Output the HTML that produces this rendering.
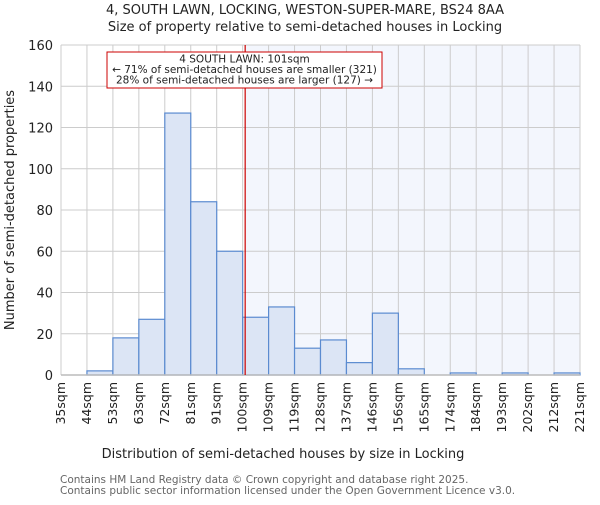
<!DOCTYPE html>
<html><head><meta charset="utf-8"><style>
body{margin:0;background:#fff}
svg{font-family:"DejaVu Sans","Liberation Sans",sans-serif}
</style></head><body>
<svg id="c" width="600" height="500" viewBox="0 0 600 500">
<text x="305" y="14" text-anchor="middle" font-size="13" fill="#222">4, SOUTH LAWN, LOCKING, WESTON-SUPER-MARE, BS24 8AA</text>
<text x="305" y="31" text-anchor="middle" font-size="13" fill="#222">Size of property relative to semi-detached houses in Locking</text>
<g id="plot"></g>
<text x="283" y="458" text-anchor="middle" font-size="13" fill="#222">Distribution of semi-detached houses by size in Locking</text>
<text transform="translate(14,210) rotate(-90)" text-anchor="middle" font-size="13" fill="#222">Number of semi-detached properties</text>
<text x="60" y="483" font-size="10.5" fill="#666">Contains HM Land Registry data © Crown copyright and database right 2025.</text>
<text x="60" y="494" font-size="10.5" fill="#666">Contains public sector information licensed under the Open Government Licence v3.0.</text>
</svg>
<script>
const tickLabels=["35sqm","44sqm","53sqm","63sqm","72sqm","81sqm","91sqm","100sqm","109sqm","119sqm","128sqm","137sqm","146sqm","156sqm","165sqm","174sqm","184sqm","193sqm","202sqm","212sqm","221sqm"];
const counts=[0,2,18,27,127,84,60,28,33,13,17,6,30,3,0,1,0,1,0,1];
const yTicks=[0,20,40,60,80,100,120,140,160];
const xMin=35,xMax=221,subject=101;
const L=61,R=580,T=45,B=375,yMax=160;
const ns="http://www.w3.org/2000/svg";
const g=document.getElementById('plot');
const nb=counts.length,bw=(R-L)/nb;
const xi=i=>L+i*bw;
const xv=v=>L+(v-xMin)/(xMax-xMin)*(R-L);
const y=v=>B-v/yMax*(B-T);
function mk(t,a,p){const e=document.createElementNS(ns,t);for(const k in a)e.setAttribute(k,a[k]);(p||g).appendChild(e);return e;}
let e;
e=mk('rect',{x:xv(subject),y:T,width:R-xv(subject),height:B-T,fill:'#f3f6fd'});


for(let i=0;i<=nb;i++){e=mk('line',{x1:xi(i),x2:xi(i),y1:T,y2:B,stroke:'#ccc','stroke-width':1});

}
yTicks.forEach(t=>{e=mk('line',{x1:L,x2:R,y1:y(t),y2:y(t),stroke:'#ccc','stroke-width':1});


e=mk('text',{x:L-8,y:y(t)+5,'text-anchor':'end','font-size':13,fill:'#222'});e.textContent=t;

});
counts.forEach((c,i)=>{if(c<=0)return;e=mk('rect',{x:xi(i),y:y(c),width:bw,height:B-y(c),fill:'#dce5f5',stroke:'#5b8bd0','stroke-width':1.2});

});
e=mk('line',{x1:L,x2:R,y1:B,y2:B,stroke:'#bbb','stroke-width':1.5});


tickLabels.forEach((t,i)=>{const x=xi(i)+4;e=mk('text',{transform:`translate(${x},${B+7}) rotate(-90)`,'text-anchor':'end','font-size':12.5,fill:'#222'});e.textContent=t;

});
e=mk('line',{x1:xv(subject),x2:xv(subject),y1:T,y2:B,stroke:'#c00','stroke-width':1.2});


const box=mk('g',{});


mk('rect',{x:107,y:52,width:275,height:36,fill:'#fff',stroke:'#c00','stroke-width':1},box);
["4 SOUTH LAWN: 101sqm","← 71% of semi-detached houses are smaller (321)","28% of semi-detached houses are larger (127) →"].forEach((s,i)=>{
e=mk('text',{x:244.5,y:62.5+i*10.5,'text-anchor':'middle','font-size':10.5,fill:'#222'},box);e.textContent=s;

});
</script>
</body></html>
